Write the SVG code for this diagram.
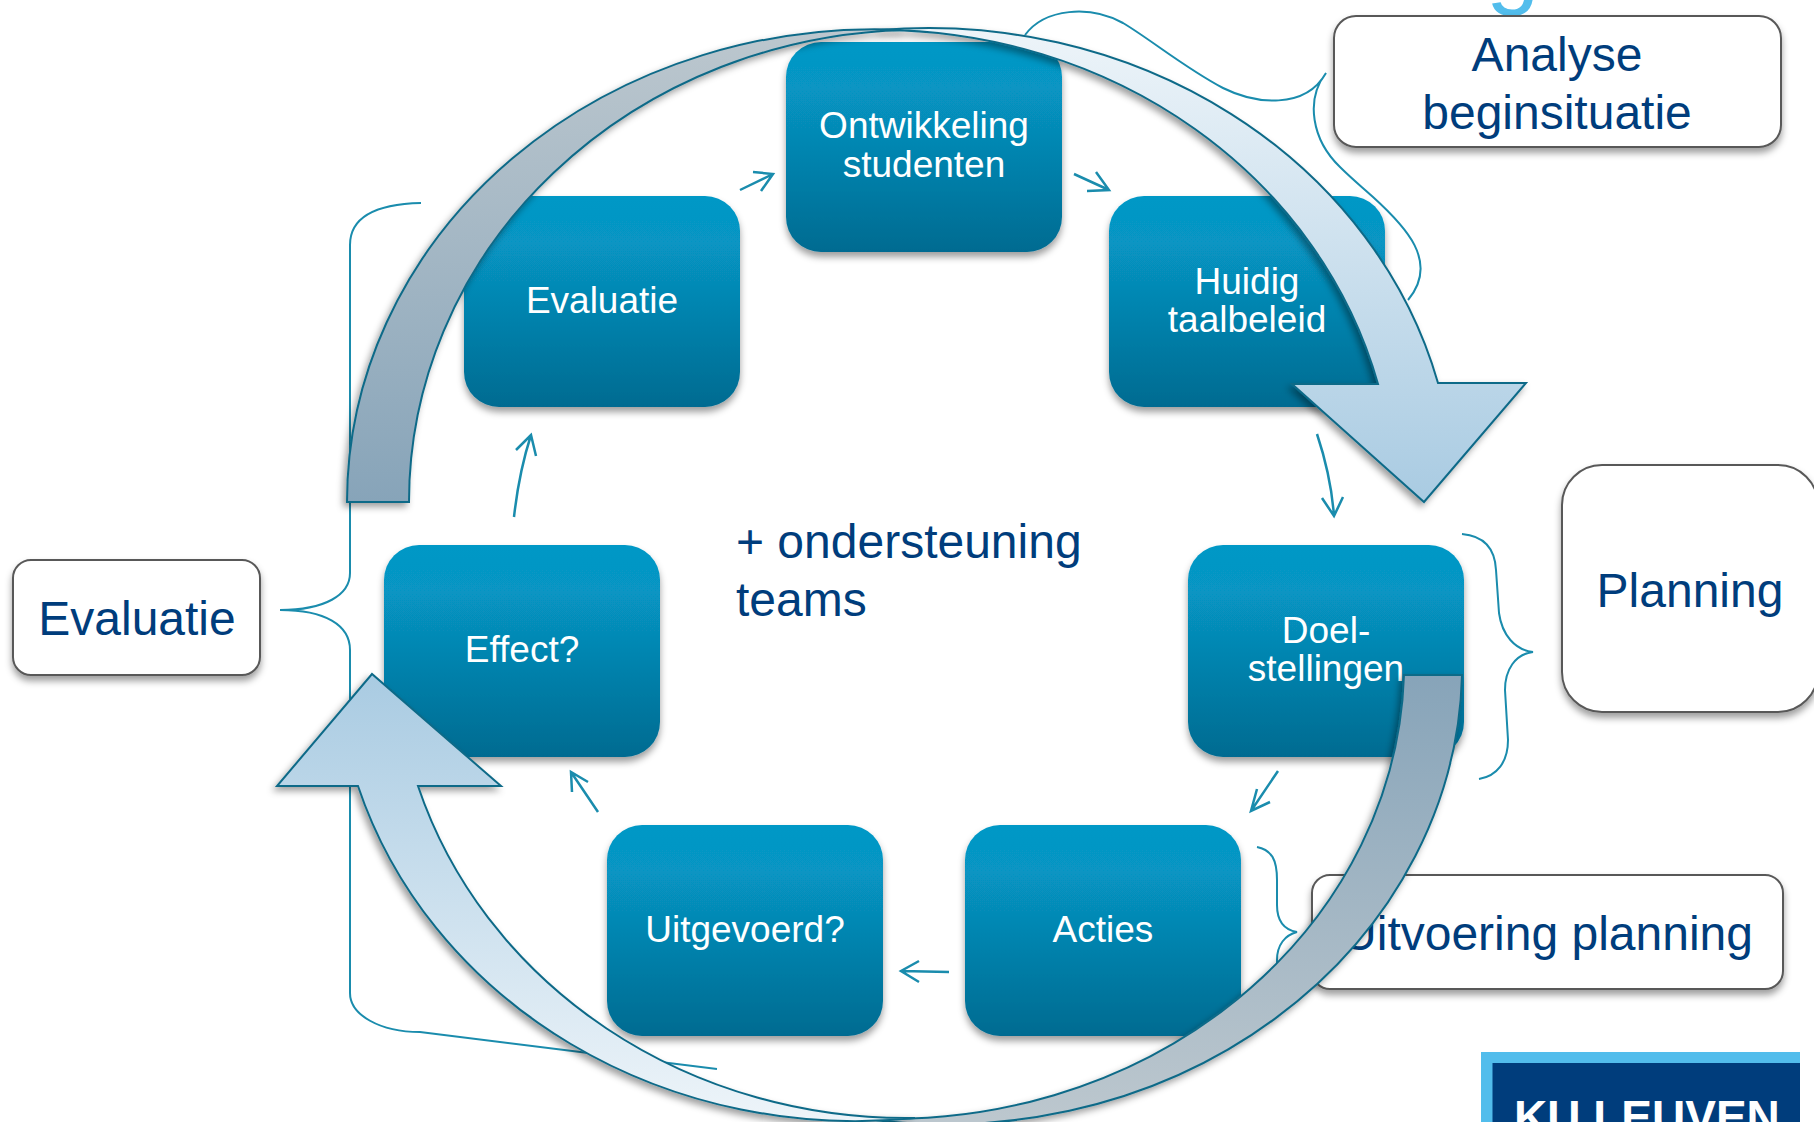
<svg xmlns="http://www.w3.org/2000/svg" width="1814" height="1122" viewBox="0 0 1814 1122">
<defs>
<linearGradient id="nodeG" x1="0" y1="0" x2="0" y2="1"><stop offset="0" stop-color="#0598c6"/><stop offset="0.22" stop-color="#0795c3"/><stop offset="1" stop-color="#036b91"/></linearGradient>
<linearGradient id="greyL" gradientUnits="userSpaceOnUse" x1="0" y1="502" x2="0" y2="30"><stop offset="0" stop-color="#87a4b9"/><stop offset="1" stop-color="#bcc7ce"/></linearGradient>
<linearGradient id="greyR" gradientUnits="userSpaceOnUse" x1="0" y1="675" x2="0" y2="1119"><stop offset="0" stop-color="#87a4b9"/><stop offset="1" stop-color="#bcc7ce"/></linearGradient>
<linearGradient id="blueT" gradientUnits="userSpaceOnUse" x1="0" y1="30" x2="0" y2="502"><stop offset="0" stop-color="#edf4f9"/><stop offset="1" stop-color="#a9cbe2"/></linearGradient>
<linearGradient id="blueB" gradientUnits="userSpaceOnUse" x1="0" y1="1119" x2="0" y2="674"><stop offset="0" stop-color="#edf4f9"/><stop offset="1" stop-color="#a9cbe2"/></linearGradient>
<filter id="sh" x="-15%" y="-15%" width="130%" height="130%"><feDropShadow dx="0" dy="5" stdDeviation="3.5" flood-color="#000" flood-opacity="0.38"/></filter>
<filter id="shA" x="-15%" y="-15%" width="130%" height="130%"><feDropShadow dx="-3" dy="4" stdDeviation="3.5" flood-color="#000" flood-opacity="0.38"/></filter>
<style>
.n{fill:url(#nodeG);filter:url(#sh)}
.nt{font:37px "Liberation Sans",Arial,sans-serif;fill:#fff;text-anchor:middle}
.b{fill:#fff;stroke:#595959;stroke-width:2;filter:url(#sh)}
.bt{font:48px "Liberation Sans",Arial,sans-serif;fill:#003d7c}
.c{fill:none;stroke:#1a8cad;stroke-width:2}
.a{fill:none;stroke:#1a8cad;stroke-width:2.5}
.big{stroke:#0f6a88;stroke-width:2;stroke-linejoin:miter;filter:url(#shA)}
</style>
</defs>
<text x="1486" y="-4" font-family="Liberation Sans, Arial, sans-serif" font-size="96" fill="#52bdec">g</text>
<g id="logo"><rect x="1481" y="1052" width="319" height="70" fill="#52bdec"/><rect x="1492.5" y="1063" width="307.5" height="59" fill="#003d7c"/><text x="1514" y="1133" font-family="Liberation Sans, Arial, sans-serif" font-weight="700" font-size="46" fill="#fff">KU LEUVEN</text></g>
<g id="node-ontwikkeling"><rect class="n" x="786" y="42" width="276" height="210" rx="35"/><text class="nt" x="924" y="138">Ontwikkeling</text><text class="nt" x="924" y="177">studenten</text></g>
<g id="node-huidig"><rect class="n" x="1109" y="196" width="276" height="211" rx="35"/><text class="nt" x="1247" y="294">Huidig</text><text class="nt" x="1247" y="332">taalbeleid</text></g>
<g id="node-doel"><rect class="n" x="1188" y="545" width="276" height="212" rx="35"/><text class="nt" x="1326" y="643">Doel-</text><text class="nt" x="1326" y="681">stellingen</text></g>
<g id="node-acties"><rect class="n" x="965" y="825" width="276" height="211" rx="35"/><text class="nt" x="1103" y="942">Acties</text></g>
<g id="node-uitgevoerd"><rect class="n" x="607" y="825" width="276" height="211" rx="35"/><text class="nt" x="745" y="942">Uitgevoerd?</text></g>
<g id="node-effect"><rect class="n" x="384" y="545" width="276" height="212" rx="35"/><text class="nt" x="522" y="662">Effect?</text></g>
<g id="node-evaluatie"><rect class="n" x="464" y="196" width="276" height="211" rx="35"/><text class="nt" x="602" y="313">Evaluatie</text></g>
<g id="box-analyse"><rect class="b" x="1334" y="16" width="447" height="131" rx="22"/><text class="bt" x="1557" y="71" text-anchor="middle">Analyse</text><text class="bt" x="1557" y="129" text-anchor="middle">beginsituatie</text></g>
<g id="box-planning"><rect class="b" x="1562" y="465" width="256" height="247" rx="40"/><text class="bt" x="1690" y="607" text-anchor="middle">Planning</text></g>
<g id="box-uitvoering"><rect class="b" x="1312" y="875" width="471" height="114" rx="18"/><text class="bt" x="1753" y="950" text-anchor="end">Uitvoering planning</text></g>
<g id="box-evaluatie"><rect class="b" x="13" y="560" width="247" height="115" rx="18"/><text class="bt" x="137" y="635" text-anchor="middle">Evaluatie</text></g>
<text id="centre-label" class="bt" x="736" y="558">+ ondersteuning<tspan x="736" y="616">teams</tspan></text>
<g id="connectors">
<path class="a" d="M740,190 L773,174 M753,172 L773,174 L761,191"/>
<path class="a" d="M1074,174 L1109,190 M1096,172 L1109,190 L1087,191"/>
<path class="a" d="M1317,434 Q1331,476 1334,516 M1322,498 L1334,516 L1343,497"/>
<path class="a" d="M1278,771 L1251,811 M1257,789 L1251,811 L1270,802"/>
<path class="a" d="M949,972 L901,971 M919,961 L901,971 L919,982"/>
<path class="a" d="M598,812 L571,772 M588,782 L571,772 L572,792"/>
<path class="a" d="M514,517 Q519,472 531,435 M516,450 L531,435 L536,456"/>
<path class="c" d="M1025,35 C1045,8 1090,5 1123,23 C1150,39 1185,68 1223,88 C1255,104 1305,110 1326,73 C1305,100 1312,140 1340,167 C1352,179 1362,187 1373,197 C1405,226 1440,262 1408,300"/>
<path class="c" d="M1462,534 C1485,536 1495,550 1496,570 L1499,613 C1502,635 1515,650 1533,652 C1515,654 1505,670 1505,690 L1508,740 C1508,762 1497,776 1479,779"/>
<path class="c" d="M1257,847 C1272,850 1277,860 1277,880 L1277,905 C1277,922 1285,930 1297,932 C1285,935 1277,945 1277,960 L1277,990 C1277,1005 1270,1015 1257,1017"/>
<path class="c" d="M421,203 C380,204 350,215 350,245 L350,573 C350,595 325,610 280,610 C325,610 350,625 350,650 L350,993 C350,1015 380,1032 420,1032 L717,1069"/>
</g>
<g id="arrow-left-top"><path class="big" fill="url(#greyL)" d="M347,502 A528,473 0 0 1 905,30 A511,472 0 0 0 409,502 Z"/></g>
<g id="arrow-right-top"><path class="big" fill="url(#blueT)" d="M880,30 A526,473 0 0 1 1438,383 L1526,383 L1424,502 L1292,384 L1378,384 A515,472 0 0 0 880,30 Z"/></g>
<g id="arrow-right-bottom"><path class="big" fill="url(#greyR)" d="M1462,675 A517,459 0 0 1 860,1118 A513,457 0 0 0 1404,675 Z"/></g>
<g id="arrow-left-bottom"><path class="big" fill="url(#blueB)" d="M915,1118 A520,473 0 0 1 358,786 L277,786 L372,674 L501,786 L418,786 A511,472 0 0 0 915,1118 Z"/></g>
</svg>
